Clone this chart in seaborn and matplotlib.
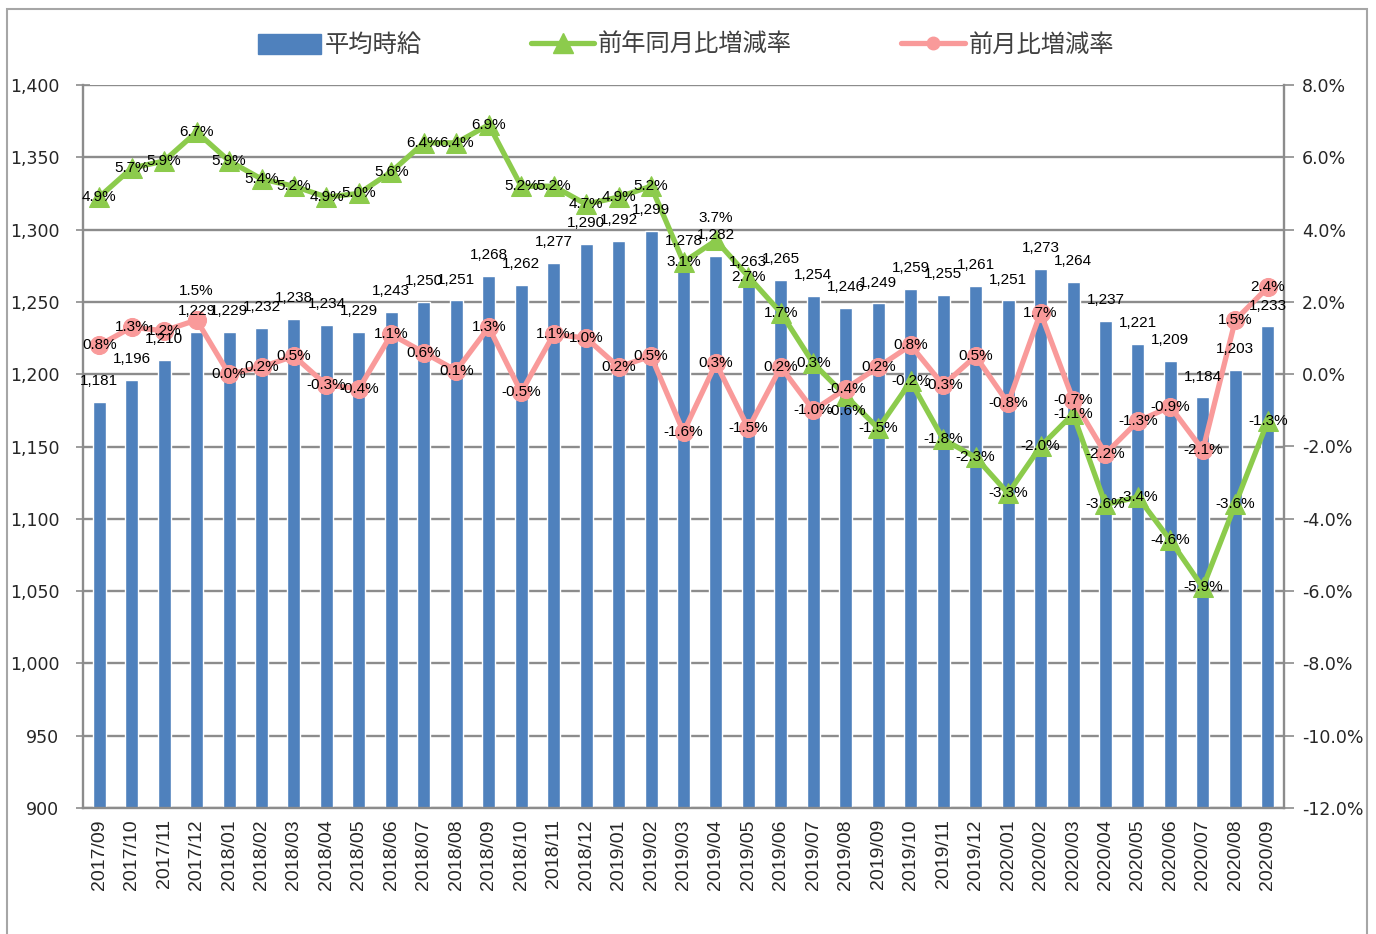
import numpy as np
import pandas as pd
import matplotlib
matplotlib.use('Agg')
import matplotlib.pyplot as plt
from matplotlib.lines import Line2D
from matplotlib.patches import Patch, Rectangle
from matplotlib.ticker import FuncFormatter, FixedLocator
import seaborn as sns

# -----------------------------
# data
# -----------------------------
months = ['2017/09', '2017/10', '2017/11', '2017/12',
          '2018/01', '2018/02', '2018/03', '2018/04', '2018/05', '2018/06',
          '2018/07', '2018/08', '2018/09', '2018/10', '2018/11', '2018/12',
          '2019/01', '2019/02', '2019/03', '2019/04', '2019/05', '2019/06',
          '2019/07', '2019/08', '2019/09', '2019/10', '2019/11', '2019/12',
          '2020/01', '2020/02', '2020/03', '2020/04', '2020/05', '2020/06',
          '2020/07', '2020/08', '2020/09']

wage = [1181, 1196, 1210, 1229,
        1229, 1232, 1238, 1234, 1229, 1243,
        1250, 1251, 1268, 1262, 1277, 1290,
        1292, 1299, 1278, 1282, 1263, 1265,
        1254, 1246, 1249, 1259, 1255, 1261,
        1251, 1273, 1264, 1237, 1221, 1209,
        1184, 1203, 1233]

yoy = [4.9, 5.7, 5.9, 6.7,
       5.9, 5.4, 5.2, 4.9, 5.0, 5.6,
       6.4, 6.4, 6.9, 5.2, 5.2, 4.7,
       4.9, 5.2, 3.1, 3.7, 2.7, 1.7,
       0.3, -0.6, -1.5, -0.2, -1.8, -2.3,
       -3.3, -2.0, -1.1, -3.6, -3.4, -4.6,
       -5.9, -3.6, -1.3]

mom = [0.8, 1.3, 1.2, 1.5,
       0.0, 0.2, 0.5, -0.3, -0.4, 1.1,
       0.6, 0.1, 1.3, -0.5, 1.1, 1.0,
       0.2, 0.5, -1.6, 0.3, -1.5, 0.2,
       -1.0, -0.4, 0.2, 0.8, -0.3, 0.5,
       -0.8, 1.7, -0.7, -2.2, -1.3, -0.9,
       -2.1, 1.5, 2.4]

labels = ['平均時給', '前年同月比増減率', '前月比増減率']

BLUE = '#4F81BD'
GREEN = '#8CCB4C'
PINK = '#F99A9A'
GRID = '#8C8C8C'

# a few labels sit off their point in the original (index -> offset in points)
yoy_shift = {19: (0, 16), 23: (0, -11)}
mom_shift = {3: (0, 21)}

df = pd.DataFrame({'month': months, 'wage': wage, 'yoy': yoy, 'mom': mom})
df['pos'] = np.arange(len(df))

sns.set_style('white')
plt.rcParams['font.family'] = ['DejaVu Sans', 'Noto Sans CJK JP']

fig = plt.figure(figsize=(13.76, 9.34), dpi=100)
ax = fig.add_axes([83 / 1376, 1 - 808 / 934, (1284 - 83) / 1376, (808 - 85) / 934])

# outer chart frame
fig.patches.append(Rectangle((7 / 1376, -0.05), (1367 - 7) / 1376, 1.05 - 9 / 934,
                             transform=fig.transFigure, fill=False,
                             edgecolor='#A6A6A6', linewidth=1.5))

# bars
sns.barplot(data=df, x='month', y='wage', color=BLUE, width=0.4,
            saturation=1, ax=ax, zorder=2)
ax.set_ylim(900, 1400)
ax.set_xlim(-0.5, len(df) - 0.5)
ax.set_yticks(np.arange(900, 1401, 50))
ax.yaxis.set_major_formatter(FuncFormatter(lambda v, p: f'{int(v):,}'))
ax.grid(axis='y', color=GRID, linewidth=1.7, zorder=0)
ax.set_axisbelow(True)
ax.set_xlabel('')
ax.set_ylabel('')
for side in ['top', 'right']:
    ax.spines[side].set_visible(False)
for side in ['left', 'bottom']:
    ax.spines[side].set_color(GRID)
    ax.spines[side].set_linewidth(1.7)

ax.tick_params(axis='y', labelsize=12.5, direction='inout', length=10,
               color=GRID, width=1.2, pad=12)
ax.tick_params(axis='x', which='major', length=0, pad=8)
ax.set_xticks(df['pos'])
ax.set_xticklabels(months, rotation=90, fontsize=14, family='Liberation Sans')
ax.xaxis.set_minor_locator(FixedLocator(df['pos'].values[:-1] + 0.5))
ax.tick_params(axis='x', which='minor', direction='out', length=7,
               color=GRID, width=1.2)

# lines on the secondary axis
ax2 = ax.twinx()
sns.lineplot(data=df, x='pos', y='yoy', color=GREEN, linewidth=3.8,
             marker='^', markersize=15, markeredgecolor=GREEN, ax=ax2, zorder=3)
sns.lineplot(data=df, x='pos', y='mom', color=PINK, linewidth=3.8,
             marker='o', markersize=13, markeredgecolor=PINK, ax=ax2, zorder=4)
ax2.set_ylim(-12, 8)
ax2.set_xlim(-0.5, len(df) - 0.5)
ax2.set_yticks(np.arange(-12, 8.1, 2))
ax2.yaxis.set_major_formatter(FuncFormatter(lambda v, p: f'{v:.1f}%'))
ax2.set_xlabel('')
ax2.set_ylabel('')
for side in ['top', 'left', 'bottom']:
    ax2.spines[side].set_visible(False)
ax2.spines['right'].set_color(GRID)
ax2.spines['right'].set_linewidth(1.7)
ax2.tick_params(axis='y', labelsize=12.5, direction='out', length=7,
                color=GRID, width=1.2, pad=6)

# data labels
lab_font = dict(fontsize=11, family='Liberation Sans', color='black')
for i, v in enumerate(wage):
    ax2.annotate(f'{v:,}', xy=(i, v), xycoords=ax.transData,
                 xytext=(0, 15), textcoords='offset points',
                 ha='center', va='center', zorder=6, **lab_font)
for i, v in enumerate(yoy):
    ax2.annotate(f'{v:.1f}%', xy=(i, v), xytext=yoy_shift.get(i, (0, 0)),
                 textcoords='offset points', ha='center', va='center',
                 zorder=6, **lab_font)
for i, v in enumerate(mom):
    ax2.annotate(f'{v:.1f}%', xy=(i, v), xytext=mom_shift.get(i, (0, 0)),
                 textcoords='offset points', ha='center', va='center',
                 zorder=6, **lab_font)

# legend
handles = [Patch(facecolor=BLUE, edgecolor=BLUE),
           Line2D([], [], color=GREEN, linewidth=3.8, marker='^', markersize=15),
           Line2D([], [], color=PINK, linewidth=3.8, marker='o', markersize=9)]
leg = fig.legend(handles, labels, loc='center', bbox_to_anchor=(0.4985, 1 - 45 / 934),
                 ncol=3, frameon=False, handlelength=2.6, handleheight=0.9,
                 handletextpad=0.15, columnspacing=4.5,
                 prop={'family': ['Noto Sans CJK JP', 'DejaVu Sans'], 'size': 17.5})
for t in leg.get_texts():
    t.set_color('#404040')

fig.savefig('out.png', dpi=100)
